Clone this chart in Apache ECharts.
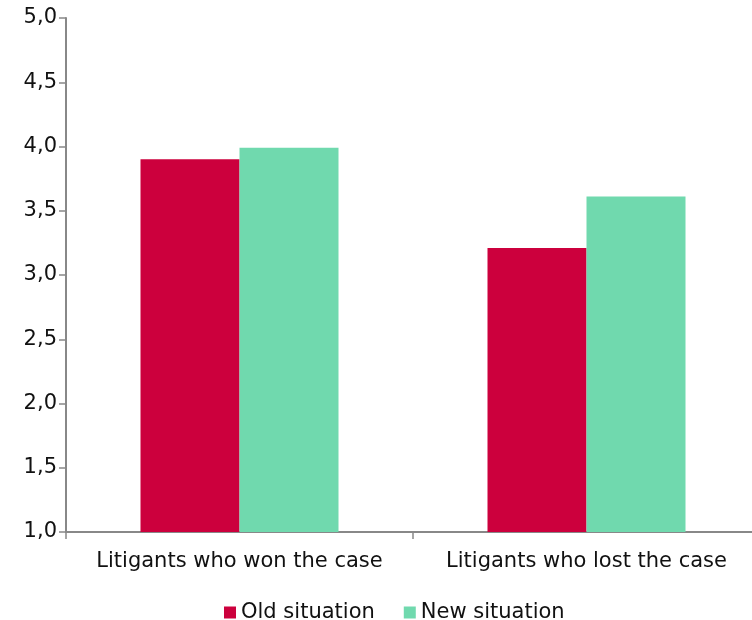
<!DOCTYPE html>
<html><head><meta charset="utf-8">
<script src="https://cdn.jsdelivr.net/npm/echarts@6/dist/echarts.min.js"></script>
<style>html,body{margin:0;padding:0;background:#fff}#c{width:752px;height:620px}</style>
</head><body><div id="c"></div>
<script>
const categories = ["Litigants who won the case", "Litigants who lost the case"];
const oldSituation = [3.90, 3.21];
const newSituation = [3.99, 3.61];
const seriesNames = ["Old situation", "New situation"];

const chart = echarts.init(document.getElementById('c'), null, {renderer: 'canvas'});
const font = 'DejaVu Sans';
chart.setOption({
  animation: false,
  textStyle: {fontFamily: font},
  grid: {left: 66, width: 694, top: 18, height: 514, containLabel: false, outerBoundsMode: 'none'},
  legend: {
    top: 597, left: 219,
    itemWidth: 12, itemHeight: 12, itemGap: 29,
    icon: 'rect',
    textStyle: {fontFamily: font, fontSize: 21, color: '#111'},
    data: seriesNames
  },
  xAxis: {
    type: 'category', data: categories,
    axisLine: {lineStyle: {color: '#888', width: 2}},
    axisTick: {show: true, length: 7, interval: 0, lineStyle: {color: '#888', width: 1.5}},
    axisLabel: {fontFamily: font, fontSize: 21, color: '#111', margin: 19, interval: 0, hideOverlap: false}
  },
  yAxis: {
    type: 'value', min: 1, max: 5, interval: 0.5,
    axisLine: {show: true, lineStyle: {color: '#888', width: 2}},
    axisTick: {show: true, length: 7, lineStyle: {color: '#888', width: 1.5}},
    splitLine: {show: false},
    axisLabel: {fontFamily: font, fontSize: 21, color: '#111', margin: 9,
      formatter: v => v.toFixed(1).replace('.', ',')}
  },
  series: [
    {name: seriesNames[0], type: 'bar', data: oldSituation, barWidth: 99, barGap: '0%',
     itemStyle: {color: '#cc003d'}},
    {name: seriesNames[1], type: 'bar', data: newSituation, barWidth: 99, barGap: '0%',
     itemStyle: {color: '#70d9ae'}}
  ]
});
</script></body></html>
